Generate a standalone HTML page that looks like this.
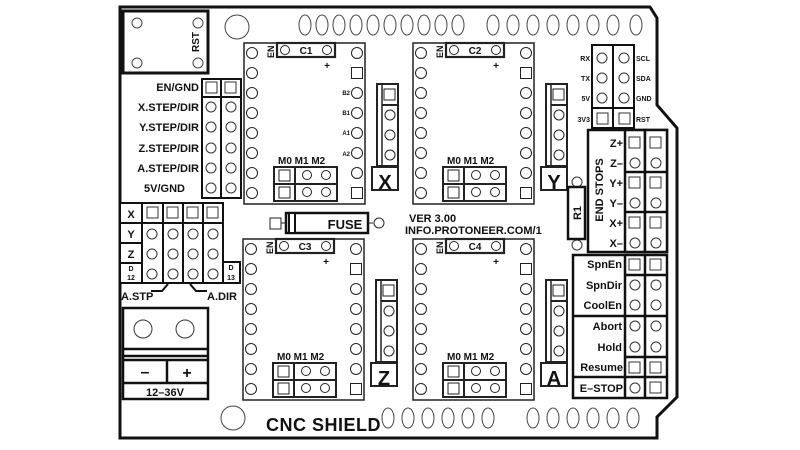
<!DOCTYPE html>
<html><head><meta charset="utf-8"><style>
html,body{margin:0;padding:0;background:#fff;width:800px;height:450px;overflow:hidden}
svg{display:block}
text{font-family:"Liberation Sans",sans-serif;font-weight:bold;fill:#111}
</style></head><body>
<svg width="800" height="450" viewBox="0 0 800 450" xmlns="http://www.w3.org/2000/svg">
<defs>
<g id="drv" fill="#fff" stroke="#222">
 <rect x="0" y="0" width="121" height="161" stroke-width="1.5"/>
 <g stroke-width="1">
 <circle cx="8" cy="10" r="5.5"/><circle cx="8" cy="30" r="5.5"/><circle cx="8" cy="50" r="5.5"/><circle cx="8" cy="70" r="5.5"/>
 <circle cx="8" cy="90" r="5.5"/><circle cx="8" cy="110" r="5.5"/><circle cx="8" cy="130" r="5.5"/><circle cx="8" cy="150" r="5.5"/>
 <circle cx="113" cy="10" r="5.5"/><rect x="107.5" y="24.5" width="11" height="11"/><circle cx="113" cy="50" r="5.5"/><circle cx="113" cy="70" r="5.5"/>
 <circle cx="113" cy="90" r="5.5"/><circle cx="113" cy="110" r="5.5"/><circle cx="113" cy="130" r="5.5"/><rect x="107.5" y="144.5" width="11" height="11"/>
 </g>
 <rect x="33" y="0" width="58" height="14" stroke-width="2.2"/>
 <circle cx="41" cy="7" r="4.5" stroke-width="1"/><circle cx="83" cy="7" r="4.5" stroke-width="1"/>
 <rect x="30" y="124" width="63" height="34" stroke-width="2"/>
 <line x1="51" y1="124" x2="51" y2="158" stroke-width="2"/><line x1="30" y1="141" x2="93" y2="141" stroke-width="2"/>
 <rect x="35" y="127" width="11" height="11" stroke-width="1"/><rect x="35" y="144" width="11" height="11" stroke-width="1"/>
 <circle cx="63" cy="132" r="4.5" stroke-width="1"/><circle cx="82" cy="132" r="4.5" stroke-width="1"/>
 <circle cx="63" cy="149" r="4.5" stroke-width="1"/><circle cx="82" cy="149" r="4.5" stroke-width="1"/>
 <rect x="133" y="41" width="21" height="82" stroke-width="2"/>
 <line x1="138" y1="41" x2="138" y2="123" stroke-width="1.5"/>
 <line x1="138" y1="62" x2="154" y2="62" stroke-width="2"/>
 <rect x="140" y="46" width="11" height="11" stroke-width="1"/>
 <circle cx="146" cy="72" r="5" stroke-width="1"/><circle cx="146" cy="92" r="5" stroke-width="1"/><circle cx="146" cy="112" r="5" stroke-width="1"/>
 <rect x="128" y="124" width="26" height="23" stroke-width="2"/>
</g>
</defs>

<!-- board outline -->
<path d="M120,7 L650,7 L657,18 L657,105 L677,128 L677,397 L657,417 L657,438 L120,438 Z" fill="#fff" stroke="#111" stroke-width="3"/>

<!-- top header ovals -->
<g fill="none" stroke="#444" stroke-width="1">
<circle cx="237" cy="27" r="12"/>
<ellipse cx="305" cy="25" rx="6" ry="10"/><ellipse cx="322" cy="25" rx="6" ry="10"/><ellipse cx="339" cy="25" rx="6" ry="10"/><ellipse cx="356" cy="25" rx="6" ry="10"/><ellipse cx="373" cy="25" rx="6" ry="10"/>
<ellipse cx="390" cy="25" rx="6" ry="10"/><ellipse cx="407" cy="25" rx="6" ry="10"/><ellipse cx="424" cy="25" rx="6" ry="10"/><ellipse cx="441" cy="25" rx="6" ry="10"/><ellipse cx="458" cy="25" rx="6" ry="10"/>
<ellipse cx="493" cy="25" rx="6" ry="10"/><ellipse cx="513" cy="25" rx="6" ry="10"/><ellipse cx="533" cy="25" rx="6" ry="10"/><ellipse cx="553" cy="25" rx="6" ry="10"/>
<ellipse cx="573" cy="25" rx="6" ry="10"/><ellipse cx="593" cy="25" rx="6" ry="10"/><ellipse cx="613" cy="25" rx="6" ry="10"/><ellipse cx="636" cy="25" rx="6" ry="10"/>
<circle cx="233" cy="418" r="12"/>
<ellipse cx="388" cy="418" rx="6" ry="10"/><ellipse cx="408" cy="418" rx="6" ry="10"/><ellipse cx="428" cy="418" rx="6" ry="10"/><ellipse cx="448" cy="418" rx="6" ry="10"/><ellipse cx="468" cy="418" rx="6" ry="10"/><ellipse cx="488" cy="418" rx="6" ry="10"/>
<ellipse cx="533" cy="418" rx="6" ry="10"/><ellipse cx="553" cy="418" rx="6" ry="10"/><ellipse cx="573" cy="418" rx="6" ry="10"/><ellipse cx="593" cy="418" rx="6" ry="10"/><ellipse cx="613" cy="418" rx="6" ry="10"/><ellipse cx="633" cy="418" rx="6" ry="10"/>
</g>

<!-- RST button -->
<rect x="123" y="11" width="85" height="62" fill="#fff" stroke="#111" stroke-width="3"/>
<g fill="none" stroke="#444"><circle cx="137" cy="23" r="5"/><circle cx="198" cy="23" r="5"/><circle cx="137" cy="63" r="5"/><circle cx="198" cy="63" r="5"/></g>
<text x="0" y="0" font-size="10" transform="translate(199,52) rotate(-90)">RST</text>

<!-- left header -->
<g stroke="#111" fill="#fff">
<rect x="202" y="79" width="19" height="119" stroke-width="2"/><rect x="221" y="79" width="20" height="119" stroke-width="2"/>
<line x1="202" y1="97" x2="241" y2="97" stroke-width="2"/>
<g stroke-width="1" stroke="#333"><rect x="206" y="82" width="11" height="11"/><rect x="225" y="82" width="11" height="11"/>
<circle cx="211" cy="107" r="5"/><circle cx="231" cy="107" r="5"/><circle cx="211" cy="127" r="5"/><circle cx="231" cy="127" r="5"/>
<circle cx="211" cy="148" r="5"/><circle cx="231" cy="148" r="5"/><circle cx="211" cy="168" r="5"/><circle cx="231" cy="168" r="5"/>
<circle cx="211" cy="188" r="5"/><circle cx="231" cy="188" r="5"/></g>
</g>
<g font-size="11" text-anchor="end">
<text x="199" y="91">EN/GND</text><text x="199" y="111">X.STEP/DIR</text><text x="199" y="131">Y.STEP/DIR</text>
<text x="199" y="152">Z.STEP/DIR</text><text x="199" y="172">A.STEP/DIR</text><text x="185" y="192">5V/GND</text>
</g>

<!-- jumper block -->
<g stroke="#111" fill="#fff" stroke-width="2">
<rect x="120" y="203" width="22" height="20"/><rect x="120" y="223" width="22" height="20"/><rect x="120" y="243" width="22" height="20"/><rect x="120" y="263" width="22" height="20"/>
<rect x="142" y="203" width="21" height="80"/><rect x="163" y="203" width="20" height="80"/><rect x="183" y="203" width="20" height="80"/><rect x="203" y="203" width="20" height="80"/>
<line x1="142" y1="223" x2="223" y2="223"/>
<rect x="223" y="262" width="17" height="21"/>
<g stroke-width="1" stroke="#333"><rect x="147" y="207" width="11" height="11"/><rect x="167" y="207" width="11" height="11"/><rect x="187" y="207" width="11" height="11"/><rect x="207" y="207" width="11" height="11"/>
<circle cx="152" cy="234" r="5"/><circle cx="173" cy="234" r="5"/><circle cx="193" cy="234" r="5"/><circle cx="213" cy="234" r="5"/>
<circle cx="152" cy="254" r="5"/><circle cx="173" cy="254" r="5"/><circle cx="193" cy="254" r="5"/><circle cx="213" cy="254" r="5"/>
<circle cx="152" cy="274" r="5"/><circle cx="173" cy="274" r="5"/><circle cx="193" cy="274" r="5"/><circle cx="213" cy="274" r="5"/></g>
</g>
<g font-size="11" text-anchor="middle"><text x="131" y="218">X</text><text x="131" y="238">Y</text><text x="131" y="258">Z</text></g>
<g font-size="7" text-anchor="middle" font-weight="normal"><text x="131" y="271">D</text><text x="131" y="280">12</text><text x="231" y="270">D</text><text x="231" y="280">13</text></g>
<path d="M168,284 L162,291 L151,291 M190,284 L196,291 L207,291" fill="none" stroke="#111" stroke-width="2"/>
<g font-size="11"><text x="121" y="300">A.STP</text><text x="207" y="300">A.DIR</text></g>

<!-- power terminal -->
<g stroke="#111" fill="#fff" stroke-width="2.5">
<rect x="123" y="308" width="85" height="91"/>
<line x1="123" y1="349" x2="208" y2="349"/><line x1="123" y1="356" x2="208" y2="356"/>
<line x1="123" y1="360" x2="208" y2="360"/><line x1="123" y1="383" x2="208" y2="383"/>
<line x1="167" y1="360" x2="167" y2="383"/>
</g>
<g fill="none" stroke="#333"><circle cx="143" cy="329" r="9"/><circle cx="185" cy="329" r="9"/></g>
<g font-size="16" text-anchor="middle"><text x="145" y="377">–</text><text x="187" y="378">+</text></g>
<text x="165" y="396" font-size="11" text-anchor="middle">12–36V</text>

<!-- drivers -->
<use href="#drv" x="244" y="43"/>
<use href="#drv" x="413" y="43"/>
<use href="#drv" x="243" y="239"/>
<use href="#drv" x="413" y="239"/>
<g font-size="10" text-anchor="middle">
<text x="306" y="54">C1</text><text x="475" y="54">C2</text><text x="305" y="250">C3</text><text x="475" y="250">C4</text>
</g>
<g font-size="9">
<text x="0" y="0" transform="translate(274,58) rotate(-90)">EN</text><text x="0" y="0" transform="translate(443,58) rotate(-90)">EN</text>
<text x="0" y="0" transform="translate(273,254) rotate(-90)">EN</text><text x="0" y="0" transform="translate(443,254) rotate(-90)">EN</text>
</g>
<g font-size="10" text-anchor="middle"><text x="327" y="69">+</text><text x="496" y="69">+</text><text x="326" y="265">+</text><text x="496" y="265">+</text></g>
<g font-size="10">
<text x="278" y="164">M0 M1 M2</text><text x="447" y="164">M0 M1 M2</text>
<text x="277" y="360">M0 M1 M2</text><text x="447" y="360">M0 M1 M2</text>
</g>
<g font-size="6" font-weight="normal" text-anchor="end"><text x="350" y="95">B2</text><text x="350" y="115">B1</text><text x="350" y="135">A1</text><text x="350" y="156">A2</text></g>
<g font-size="20" font-weight="normal" text-anchor="middle">
<text x="385" y="189">X</text><text x="554" y="189">Y</text><text x="384" y="385">Z</text><text x="554" y="385">A</text>
</g>

<!-- fuse -->
<rect x="270" y="218" width="11" height="11" fill="#fff" stroke="#222"/>
<line x1="281" y1="223" x2="286" y2="223" stroke="#222"/>
<rect x="286" y="213" width="82" height="20" fill="#fff" stroke="#111" stroke-width="2.5"/>
<rect x="289" y="213" width="6" height="20" fill="#fff" stroke="#111" stroke-width="2"/>
<text x="345" y="229" font-size="13" font-weight="normal" text-anchor="middle">FUSE</text>
<line x1="368" y1="223" x2="373" y2="223" stroke="#222"/><circle cx="379" cy="223" r="5" fill="#fff" stroke="#222"/>
<g font-size="11" font-weight="normal"><text x="409" y="222">VER 3.00</text><text x="405" y="234">INFO.PROTONEER.COM/1</text></g>

<text x="266" y="431" font-size="18" letter-spacing="0.5">CNC SHIELD</text>

<!-- top-right header -->
<g stroke="#111" fill="#fff" stroke-width="2">
<rect x="592" y="45" width="21" height="83"/><rect x="613" y="45" width="21" height="83"/>
<line x1="592" y1="108" x2="634" y2="108"/>
<g stroke-width="1" stroke="#333"><circle cx="602" cy="58" r="5"/><circle cx="624" cy="58" r="5"/><circle cx="602" cy="78" r="5"/><circle cx="624" cy="78" r="5"/>
<circle cx="602" cy="98" r="5"/><circle cx="624" cy="98" r="5"/><rect x="597" y="113" width="11" height="11"/><rect x="619" y="113" width="11" height="11"/></g>
</g>
<g font-size="7" font-weight="normal"><g text-anchor="end"><text x="590" y="61">RX</text><text x="590" y="81">TX</text><text x="590" y="101">5V</text><text x="590" y="122">3V3</text></g>
<text x="636" y="61">SCL</text><text x="636" y="81">SDA</text><text x="636" y="101">GND</text><text x="636" y="122">RST</text></g>

<!-- end stops -->
<g stroke="#111" fill="#fff" stroke-width="2.5">
<rect x="588" y="130" width="79" height="122"/>
<rect x="625" y="130" width="20" height="122"/><rect x="645" y="130" width="22" height="122"/>
<line x1="625" y1="172" x2="667" y2="172"/><line x1="625" y1="212" x2="667" y2="212"/>
</g>
<g stroke="#333" fill="#fff"><rect x="629" y="137" width="11" height="11"/><rect x="650" y="137" width="11" height="11"/>
<circle cx="635" cy="163" r="5"/><circle cx="656" cy="163" r="5"/>
<rect x="629" y="177" width="11" height="11"/><rect x="650" y="177" width="11" height="11"/>
<circle cx="635" cy="203" r="5"/><circle cx="656" cy="203" r="5"/>
<rect x="629" y="217" width="11" height="11"/><rect x="650" y="217" width="11" height="11"/>
<circle cx="635" cy="243" r="5"/><circle cx="656" cy="243" r="5"/></g>
<g font-size="11" text-anchor="end"><text x="623" y="147">Z+</text><text x="623" y="167">Z–</text><text x="623" y="187">Y+</text><text x="623" y="207">Y–</text><text x="623" y="227">X+</text><text x="623" y="247">X–</text></g>
<text x="0" y="0" font-size="11" text-anchor="middle" transform="translate(603,190) rotate(-90)">END STOPS</text>

<!-- R1 -->
<circle cx="577" cy="182" r="5" fill="#fff" stroke="#333"/><circle cx="577" cy="245" r="5" fill="#fff" stroke="#333"/>
<rect x="568" y="187" width="17" height="52" fill="#fff" stroke="#111" stroke-width="2.5"/>
<text x="0" y="0" font-size="11" font-weight="normal" text-anchor="middle" transform="translate(581,213) rotate(-90)">R1</text>

<!-- spindle block -->
<g stroke="#111" fill="#fff" stroke-width="2.5">
<rect x="573" y="255" width="94" height="143"/>
<line x1="625" y1="255" x2="625" y2="398"/><line x1="645" y1="255" x2="645" y2="398"/>
<line x1="573" y1="316" x2="667" y2="316"/><line x1="573" y1="377" x2="667" y2="377"/>
<line x1="625" y1="275" x2="667" y2="275"/><line x1="625" y1="357" x2="667" y2="357"/>
</g>
<g stroke="#333" fill="#fff"><rect x="629" y="259" width="11" height="11"/><rect x="650" y="259" width="11" height="11"/>
<circle cx="635" cy="285" r="5"/><circle cx="656" cy="285" r="5"/><circle cx="635" cy="305" r="5"/><circle cx="656" cy="305" r="5"/>
<circle cx="635" cy="326" r="5"/><circle cx="656" cy="326" r="5"/><circle cx="635" cy="347" r="5"/><circle cx="656" cy="347" r="5"/>
<rect x="629" y="362" width="11" height="11"/><rect x="650" y="362" width="11" height="11"/>
<circle cx="635" cy="388" r="5"/><rect x="650" y="382" width="11" height="11"/></g>
<g font-size="11" text-anchor="end"><text x="622" y="268">SpnEn</text><text x="622" y="289">SpnDir</text><text x="622" y="309">CoolEn</text>
<text x="622" y="330">Abort</text><text x="622" y="351">Hold</text><text x="623" y="371">Resume</text><text x="623" y="392">E–STOP</text></g>
</svg>
</body></html>
